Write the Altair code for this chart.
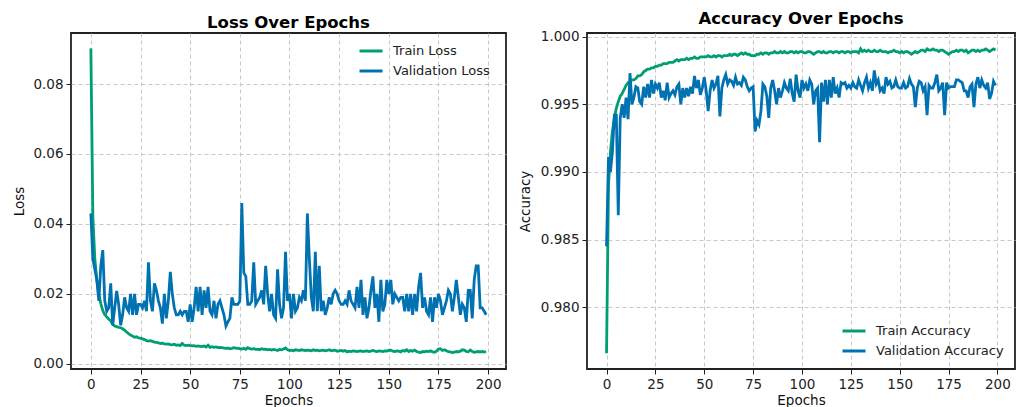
import altair as alt
import pandas as pd

epochs = list(range(200))

train_loss = [
    0.0902, 0.0420, 0.0300, 0.0240, 0.0200, 0.0172, 0.0152, 0.0140, 0.0134, 0.0128,
    0.0122, 0.0113, 0.0108, 0.0106, 0.0104, 0.0103, 0.0100, 0.0096, 0.0091, 0.0086,
    0.0082, 0.0079, 0.0076, 0.0077, 0.0074, 0.0073, 0.0071, 0.0069, 0.0066, 0.0065,
    0.0066, 0.0064, 0.0062, 0.0061, 0.0060, 0.0058, 0.0059, 0.0057, 0.0056, 0.0057,
    0.0055, 0.0054, 0.0056, 0.0053, 0.0054, 0.0052, 0.0058, 0.0053, 0.0052, 0.0053,
    0.0052, 0.0051, 0.0052, 0.0050, 0.0051, 0.0050, 0.0049, 0.0051, 0.0048, 0.0053,
    0.0047, 0.0049, 0.0047, 0.0048, 0.0046, 0.0047, 0.0046, 0.0045, 0.0044, 0.0045,
    0.0043, 0.0044, 0.0046, 0.0045, 0.0044, 0.0043, 0.0042, 0.0044, 0.0041, 0.0046,
    0.0043, 0.0042, 0.0043, 0.0041, 0.0042, 0.0040, 0.0043, 0.0041, 0.0042, 0.0040,
    0.0041, 0.0039, 0.0041, 0.0040, 0.0038, 0.0041, 0.0040, 0.0042, 0.0045, 0.0040,
    0.0038, 0.0039, 0.0037, 0.0040, 0.0039, 0.0038, 0.0040, 0.0039, 0.0038, 0.0039,
    0.0038, 0.0037, 0.0040, 0.0038, 0.0039, 0.0037, 0.0038, 0.0039, 0.0037, 0.0038,
    0.0040, 0.0037, 0.0038, 0.0039, 0.0036, 0.0037, 0.0038, 0.0036, 0.0038, 0.0034,
    0.0036, 0.0035, 0.0037, 0.0036, 0.0035, 0.0036, 0.0037, 0.0035, 0.0036, 0.0037,
    0.0035, 0.0036, 0.0038, 0.0036, 0.0035, 0.0037, 0.0036, 0.0035, 0.0037, 0.0036,
    0.0038, 0.0039, 0.0036, 0.0035, 0.0037, 0.0036, 0.0034, 0.0038, 0.0036, 0.0040,
    0.0035, 0.0038, 0.0036, 0.0039, 0.0035, 0.0033, 0.0032, 0.0035, 0.0034, 0.0036,
    0.0035, 0.0037, 0.0034, 0.0033, 0.0036, 0.0042, 0.0043, 0.0038, 0.0040, 0.0037,
    0.0035, 0.0034, 0.0032, 0.0033, 0.0035, 0.0034, 0.0036, 0.0040, 0.0039, 0.0035,
    0.0034, 0.0039, 0.0035, 0.0033, 0.0034, 0.0035, 0.0034, 0.0035, 0.0034, 0.0034,
]

val_loss = [
    0.0430, 0.0300, 0.0270, 0.0240, 0.0180, 0.0280, 0.0325, 0.0180, 0.0150, 0.0160,
    0.0230, 0.0110, 0.0160, 0.0208, 0.0170, 0.0110, 0.0140, 0.0190, 0.0160, 0.0150,
    0.0200, 0.0140, 0.0200, 0.0140, 0.0170, 0.0170, 0.0160, 0.0180, 0.0150, 0.0290,
    0.0180, 0.0150, 0.0230, 0.0210, 0.0180, 0.0160, 0.0115, 0.0200, 0.0130, 0.0180,
    0.0263, 0.0200, 0.0160, 0.0140, 0.0140, 0.0150, 0.0140, 0.0150, 0.0150, 0.0120,
    0.0170, 0.0120, 0.0160, 0.0220, 0.0150, 0.0220, 0.0140, 0.0210, 0.0160, 0.0220,
    0.0150, 0.0140, 0.0180, 0.0130, 0.0170, 0.0180, 0.0160, 0.0140, 0.0108, 0.0120,
    0.0130, 0.0190, 0.0170, 0.0170, 0.0170, 0.0180, 0.0460, 0.0260, 0.0250, 0.0170,
    0.0170, 0.0180, 0.0290, 0.0170, 0.0180, 0.0190, 0.0210, 0.0170, 0.0280, 0.0200,
    0.0150, 0.0200, 0.0140, 0.0130, 0.0270, 0.0170, 0.0130, 0.0160, 0.0320, 0.0180,
    0.0200, 0.0130, 0.0200, 0.0150, 0.0160, 0.0190, 0.0180, 0.0210, 0.0180, 0.0430,
    0.0300, 0.0190, 0.0150, 0.0320, 0.0150, 0.0280, 0.0150, 0.0180, 0.0140, 0.0160,
    0.0190, 0.0170, 0.0200, 0.0210, 0.0200, 0.0180, 0.0170, 0.0170, 0.0180, 0.0170,
    0.0210, 0.0180, 0.0170, 0.0160, 0.0220, 0.0160, 0.0240, 0.0140, 0.0190, 0.0130,
    0.0160, 0.0210, 0.0250, 0.0160, 0.0200, 0.0120, 0.0240, 0.0150, 0.0170, 0.0240,
    0.0200, 0.0240, 0.0170, 0.0200, 0.0190, 0.0180, 0.0190, 0.0190, 0.0150, 0.0200,
    0.0150, 0.0200, 0.0140, 0.0200, 0.0150, 0.0220, 0.0260, 0.0160, 0.0190, 0.0150,
    0.0140, 0.0190, 0.0120, 0.0190, 0.0160, 0.0200, 0.0180, 0.0140, 0.0160, 0.0180,
    0.0210, 0.0200, 0.0150, 0.0190, 0.0240, 0.0190, 0.0140, 0.0170, 0.0160, 0.0120,
    0.0210, 0.0210, 0.0130, 0.0240, 0.0280, 0.0280, 0.0160, 0.0160, 0.0150, 0.0140,
]

train_acc = [
    0.9766, 0.9890, 0.9915, 0.9930, 0.9940, 0.9947, 0.9952, 0.9956, 0.9958, 0.9961,
    0.9964, 0.9966, 0.9967, 0.9968, 0.9968, 0.9969, 0.9971, 0.9971, 0.9972, 0.9974,
    0.9975, 0.9976, 0.9976, 0.9977, 0.9977, 0.9978, 0.9978, 0.9979, 0.9979, 0.9980,
    0.9980, 0.9980, 0.9981, 0.9981, 0.9981, 0.9982, 0.9983, 0.9982, 0.9983, 0.9983,
    0.9983, 0.9984, 0.9983, 0.9984, 0.9984, 0.9985, 0.9984, 0.9984, 0.9985, 0.9985,
    0.9985, 0.9985, 0.9986, 0.9985, 0.9985, 0.9986, 0.9985, 0.9986, 0.9986, 0.9985,
    0.9986, 0.9986, 0.9986, 0.9987, 0.9986, 0.9987, 0.9987, 0.9986, 0.9987, 0.9988,
    0.9987, 0.9988, 0.9987, 0.9987, 0.9986, 0.9986, 0.9986, 0.9987, 0.9987, 0.9988,
    0.9987, 0.9988, 0.9988, 0.9987, 0.9988, 0.9988, 0.9989, 0.9988, 0.9988, 0.9989,
    0.9988, 0.9989, 0.9988, 0.9988, 0.9989, 0.9989, 0.9988, 0.9989, 0.9988, 0.9989,
    0.9989, 0.9988, 0.9988, 0.9989, 0.9989, 0.9988, 0.9987, 0.9988, 0.9989, 0.9989,
    0.9988, 0.9989, 0.9988, 0.9988, 0.9989, 0.9989, 0.9988, 0.9989, 0.9989, 0.9988,
    0.9989, 0.9989, 0.9988, 0.9989, 0.9989, 0.9988, 0.9989, 0.9989, 0.9989, 0.9988,
    0.9991, 0.9989, 0.9990, 0.9989, 0.9990, 0.9989, 0.9989, 0.9990, 0.9989, 0.9989,
    0.9990, 0.9989, 0.9989, 0.9989, 0.9988, 0.9989, 0.9989, 0.9990, 0.9989, 0.9989,
    0.9988, 0.9989, 0.9988, 0.9989, 0.9989, 0.9988, 0.9987, 0.9988, 0.9989, 0.9988,
    0.9989, 0.9990, 0.9990, 0.9989, 0.9991, 0.9990, 0.9990, 0.9991, 0.9990, 0.9990,
    0.9989, 0.9990, 0.9990, 0.9989, 0.9988, 0.9987, 0.9988, 0.9989, 0.9989, 0.9990,
    0.9989, 0.9990, 0.9990, 0.9989, 0.9990, 0.9988, 0.9989, 0.9990, 0.9990, 0.9989,
    0.9990, 0.9989, 0.9990, 0.9990, 0.9991, 0.9990, 0.9989, 0.9990, 0.9991, 0.9990,
]

val_acc = [
    0.9845, 0.9911, 0.9900, 0.9915, 0.9942, 0.9942, 0.9868, 0.9940, 0.9950, 0.9940,
    0.9955, 0.9939, 0.9973, 0.9950, 0.9955, 0.9963, 0.9962, 0.9952, 0.9950, 0.9963,
    0.9955, 0.9965, 0.9955, 0.9968, 0.9958, 0.9965, 0.9962, 0.9966, 0.9955, 0.9960,
    0.9953, 0.9966, 0.9955, 0.9958, 0.9960, 0.9957, 0.9963, 0.9965, 0.9950, 0.9962,
    0.9955, 0.9962, 0.9956, 0.9963, 0.9958, 0.9971, 0.9962, 0.9968, 0.9957, 0.9962,
    0.9970, 0.9960, 0.9945, 0.9960, 0.9968, 0.9962, 0.9965, 0.9971, 0.9941, 0.9962,
    0.9968, 0.9972, 0.9965, 0.9968, 0.9967, 0.9964, 0.9970, 0.9965, 0.9966, 0.9964,
    0.9970, 0.9968, 0.9963, 0.9960, 0.9962, 0.9963, 0.9930, 0.9938, 0.9935, 0.9945,
    0.9965, 0.9963, 0.9956, 0.9940, 0.9962, 0.9968, 0.9960, 0.9950, 0.9962, 0.9955,
    0.9960, 0.9966, 0.9962, 0.9960, 0.9969, 0.9958, 0.9952, 0.9972, 0.9960, 0.9955,
    0.9968, 0.9962, 0.9965, 0.9960, 0.9968, 0.9965, 0.9950, 0.9960, 0.9962, 0.9922,
    0.9966, 0.9952, 0.9968, 0.9950, 0.9968, 0.9955, 0.9970, 0.9958, 0.9962, 0.9955,
    0.9966, 0.9965, 0.9966, 0.9962, 0.9964, 0.9962, 0.9966, 0.9963, 0.9962, 0.9968,
    0.9964, 0.9960, 0.9966, 0.9970, 0.9962, 0.9966, 0.9960, 0.9975, 0.9965, 0.9968,
    0.9960, 0.9962, 0.9958, 0.9970, 0.9965, 0.9967, 0.9962, 0.9963, 0.9968, 0.9963,
    0.9962, 0.9962, 0.9966, 0.9962, 0.9963, 0.9969, 0.9965, 0.9963, 0.9948, 0.9962,
    0.9967, 0.9966, 0.9960, 0.9963, 0.9942, 0.9964, 0.9962, 0.9962, 0.9966, 0.9972,
    0.9960, 0.9962, 0.9966, 0.9942, 0.9966, 0.9962, 0.9963, 0.9963, 0.9963, 0.9968,
    0.9968, 0.9967, 0.9966, 0.9960, 0.9960, 0.9955, 0.9963, 0.9965, 0.9948, 0.9965,
    0.9970, 0.9962, 0.9968, 0.9964, 0.9962, 0.9966, 0.9954, 0.9958, 0.9967, 0.9964,
]

loss_names = ["Train Loss", "Validation Loss"]
acc_names = ["Train Accuracy", "Validation Accuracy"]
x_ticks = [0, 25, 50, 75, 100, 125, 150, 175, 200]
loss_ticks = [0.0, 0.02, 0.04, 0.06, 0.08]
acc_ticks = [0.98, 0.985, 0.99, 0.995, 1.0]

GREEN = "#009E73"
BLUE = "#0072B2"
FONT = "DejaVu Sans"

loss_df = pd.DataFrame({
    "epoch": epochs + epochs,
    "series": [loss_names[0]] * len(train_loss) + [loss_names[1]] * len(val_loss),
    "value": train_loss + val_loss,
})
acc_df = pd.DataFrame({
    "epoch": epochs + epochs,
    "series": [acc_names[0]] * len(train_acc) + [acc_names[1]] * len(val_acc),
    "value": train_acc + val_acc,
})


def panel(df, names, title, ytitle, ydomain, yticks, yfmt, lx, ly, w, ytp):
    return alt.Chart(df).mark_line(strokeWidth=2.8).encode(
        x=alt.X("epoch:Q",
                scale=alt.Scale(domain=[-10, 209], nice=False, zero=False),
                axis=alt.Axis(values=x_ticks, title="Epochs", format="d")),
        y=alt.Y("value:Q",
                scale=alt.Scale(domain=ydomain, nice=False, zero=False),
                axis=alt.Axis(values=yticks, format=yfmt, title=ytitle, titlePadding=ytp)),
        color=alt.Color("series:N",
                        scale=alt.Scale(domain=names, range=[GREEN, BLUE]),
                        legend=alt.Legend(title=None, orient="none", legendX=lx, legendY=ly,
                                          symbolType="stroke", symbolStrokeWidth=3,
                                          symbolSize=529, rowPadding=-3, labelOffset=9,
                                          labelFontSize=13, labelFont=FONT,
                                          labelColor="#222")),
    ).properties(width=w, height=336, title=title)


left = panel(loss_df, loss_names, "Loss Over Epochs", "Loss",
             [-0.0015, 0.0946], loss_ticks, ".2f", 287, 5, 435, 6)
right = panel(acc_df, acc_names, "Accuracy Over Epochs", "Accuracy",
              [0.97544, 1.00027], acc_ticks, ".3f", 254, 285, 428, 8)

chart = alt.hconcat(left, right, spacing=10).resolve_scale(
    color="independent"
).properties(
    padding={"left": 12, "top": 10, "right": 5, "bottom": 5},
    background="white",
).configure_view(
    stroke="#222", strokeWidth=1.8,
).configure_axis(
    domain=False,
    grid=True, gridColor="#c8c8c8", gridDash=[4, 3], gridWidth=1,
    ticks=True, tickColor="#222", tickSize=5, tickWidth=1,
    labelFont=FONT, labelFontSize=13.5, labelColor="#222", labelPadding=3,
    titleFont=FONT, titleFontSize=13.5, titleFontWeight="normal", titleColor="#111",
).configure_axisX(
    titlePadding=3,
).configure_title(
    font=FONT, fontSize=16.5, fontWeight="bold", color="#000", offset=2, anchor="middle",
)

chart.save("out.html", embed_options={"renderer": "svg", "actions": False})
